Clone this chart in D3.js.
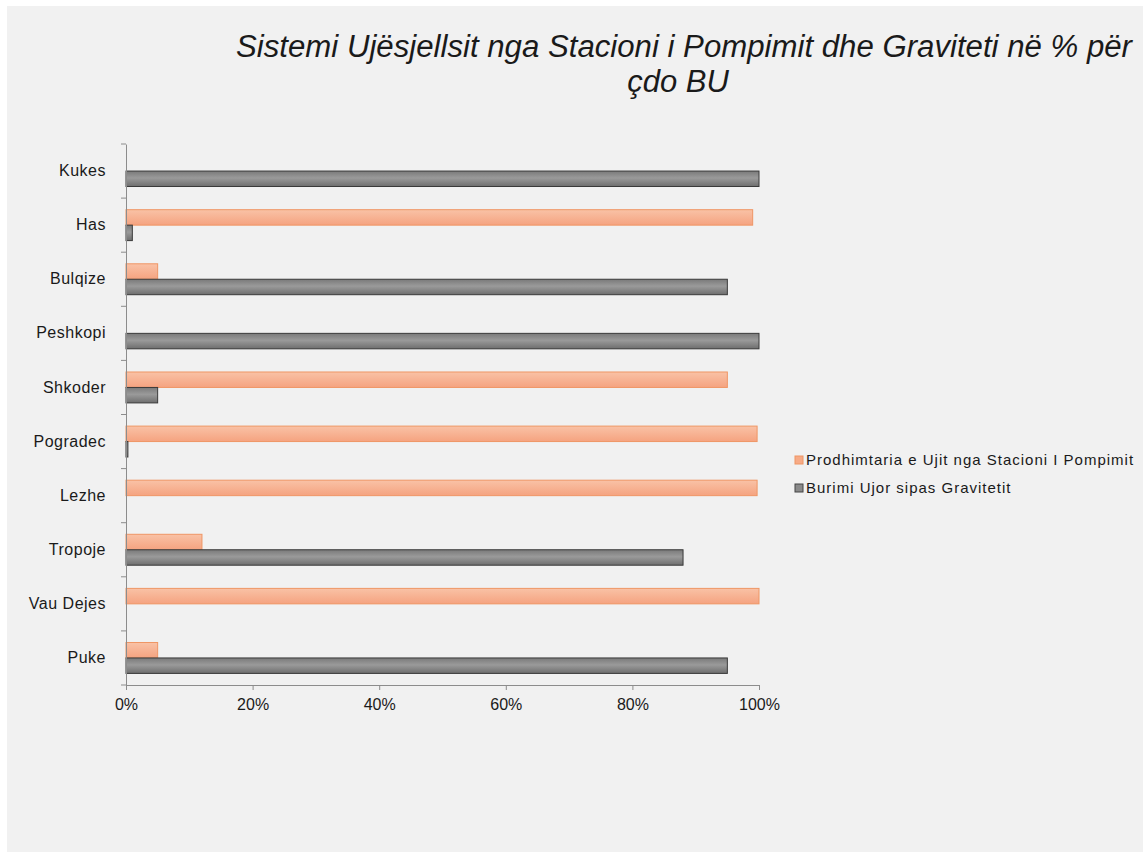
<!DOCTYPE html>
<html>
<head>
<meta charset="utf-8">
<script src="https://cdn.jsdelivr.net/npm/d3@7"></script>
<style>
  body { margin: 0; background: #fff; }
  svg { display: block; }
</style>
</head>
<body>
<div id="container"></div>
<script>
const width = 1143;
const height = 852;

const categories = ["Kukes", "Has", "Bulqize", "Peshkopi", "Shkoder", "Pogradec", "Lezhe", "Tropoje", "Vau Dejes", "Puke"];
const seriesNames = ["Prodhimtaria e Ujit nga Stacioni I Pompimit", "Burimi Ujor sipas Gravitetit"];
// values in %
const pompimi = [0, 99, 5, 0, 95, 99.7, 99.7, 12, 100, 5];
const graviteti = [100, 1, 95, 100, 5, 0.3, 0, 88, 0, 95];
const xTicks = [0, 0.2, 0.4, 0.6, 0.8, 1];

const plot = { left: 126, right: 759, top: 144, bottom: 685 };

const svg = d3.select("#container").append("svg")
    .attr("width", width)
    .attr("height", height);

// gradients
const defs = svg.append("defs");
const gOrange = defs.append("linearGradient").attr("id", "gOrange")
    .attr("x1", 0).attr("y1", 0).attr("x2", 0).attr("y2", 1);
gOrange.append("stop").attr("offset", "0%").attr("stop-color", "#f9c2a6");
gOrange.append("stop").attr("offset", "100%").attr("stop-color", "#f5a380");
const gGray = defs.append("linearGradient").attr("id", "gGray")
    .attr("x1", 0).attr("y1", 0).attr("x2", 0).attr("y2", 1);
gGray.append("stop").attr("offset", "0%").attr("stop-color", "#7a7a7a");
gGray.append("stop").attr("offset", "45%").attr("stop-color", "#9a9a9a");
gGray.append("stop").attr("offset", "100%").attr("stop-color", "#6e6e6e");

svg.append("rect")
    .attr("x", 7).attr("y", 6)
    .attr("width", width - 7).attr("height", height - 6)
    .attr("fill", "#f1f1f1");

// title
const title = svg.append("text")
    .attr("text-anchor", "middle")
    .style("font-family", "'Liberation Sans', Arial, sans-serif")
    .style("font-style", "italic")
    .style("font-size", "31px")
    .attr("fill", "#1a1a1a");
title.append("tspan").attr("x", 684).attr("y", 57)
    .attr("textLength", 896)
    .attr("lengthAdjust", "spacingAndGlyphs")
    .text("Sistemi Ujësjellsit  nga Stacioni i Pompimit dhe Graviteti në % për");
title.append("tspan").attr("x", 678).attr("y", 92)
    .text("çdo BU");

// scales
const xScale = d3.scaleLinear().domain([0, 1]).range([plot.left, plot.right]);
const yScale = d3.scaleBand().domain(categories).range([plot.top, plot.bottom]).paddingInner(0);
const inner = d3.scaleBand().domain([0, 1]).range([0, yScale.bandwidth()]).paddingInner(0).paddingOuter(0.75);

const rows = categories.map((c, i) => ({ cat: c, vals: [pompimi[i] / 100, graviteti[i] / 100] }));

const fills = ["url(#gOrange)", "url(#gGray)"];
const strokes = ["#ef9665", "#3a3a3a"];

// bars
const groups = svg.selectAll("g.row")
    .data(rows)
    .enter()
    .append("g")
    .attr("class", "row")
    .attr("transform", d => "translate(0," + yScale(d.cat) + ")");

groups.selectAll("rect")
    .data(d => d.vals.map((v, k) => ({ v: v, k: k })).filter(e => e.v > 0))
    .enter()
    .append("rect")
    .attr("x", xScale(0))
    .attr("y", d => inner(d.k))
    .attr("width", d => Math.max(xScale(d.v) - xScale(0), 1))
    .attr("height", inner.bandwidth())
    .attr("fill", d => fills[d.k])
    .attr("stroke", d => strokes[d.k])
    .attr("stroke-width", 1);

// y axis
const yAxis = d3.axisLeft(yScale).tickSize(0).tickPadding(20);
const yG = svg.append("g")
    .attr("transform", "translate(" + plot.left + ",0)")
    .call(yAxis);
yG.select(".domain").attr("stroke", "#8c8c8c");
yG.selectAll("text")
    .style("font-family", "'Liberation Sans', Arial, sans-serif")
    .style("font-size", "16px")
    .style("letter-spacing", "0.5px")
    .attr("fill", "#1a1a1a");
// category separators
svg.append("g").selectAll("line")
    .data(d3.range(categories.length + 1))
    .enter()
    .append("line")
    .attr("x1", plot.left - 5).attr("x2", plot.left)
    .attr("y1", i => plot.top + i * yScale.step())
    .attr("y2", i => plot.top + i * yScale.step())
    .attr("stroke", "#8c8c8c");

// x axis
const xAxis = d3.axisBottom(xScale)
    .tickValues(xTicks)
    .tickFormat(d3.format(".0%"))
    .tickSizeInner(5).tickSizeOuter(0).tickPadding(9);
const xG = svg.append("g")
    .attr("transform", "translate(0," + plot.bottom + ")")
    .call(xAxis);
xG.select(".domain").attr("stroke", "#8c8c8c");
xG.selectAll(".tick line").attr("stroke", "#8c8c8c");
xG.selectAll("text")
    .style("font-family", "'Liberation Sans', Arial, sans-serif")
    .style("font-size", "16px")
    .attr("fill", "#1a1a1a");

// legend
const legend = svg.append("g").attr("transform", "translate(795,456)");
const legendFills = ["#f7ab87", "#8a8a8a"];
const legendStrokes = ["#ef9665", "#444"];
const li = legend.selectAll("g")
    .data(seriesNames)
    .enter()
    .append("g")
    .attr("transform", (d, i) => "translate(0," + i * 28 + ")");
li.append("rect")
    .attr("x", 0).attr("y", 0)
    .attr("width", 8).attr("height", 8)
    .attr("fill", (d, i) => legendFills[i])
    .attr("stroke", (d, i) => legendStrokes[i]);
li.append("text")
    .attr("x", 11).attr("y", 9)
    .style("font-family", "'Liberation Sans', Arial, sans-serif")
    .style("font-size", "15px")
    .style("letter-spacing", "1px")
    .attr("fill", "#1a1a1a")
    .text(d => d);
</script>
</body>
</html>
